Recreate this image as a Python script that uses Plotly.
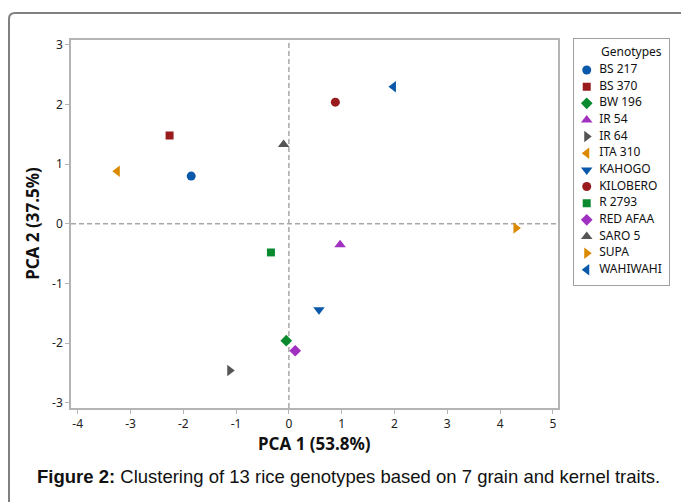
import plotly.graph_objects as go

# ---------------- data ----------------
genotypes = ["BS 217", "BS 370", "BW 196", "IR 54", "IR 64", "ITA 310", "KAHOGO",
             "KILOBERO", "R 2793", "RED AFAA", "SARO 5", "SUPA", "WAHIWAHI"]
pca1 = [-1.85, -2.26, -0.05, 0.97, -1.12, -3.25, 0.57, 0.88, -0.34, 0.12, -0.10, 4.30, 1.98]
pca2 = [0.80, 1.48, -1.96, -0.35, -2.46, 0.88, -1.44, 2.04, -0.48, -2.13, 1.33, -0.07, 2.30]
symbols = ["circle", "square", "diamond", "triangle-up", "triangle-right", "triangle-left",
           "triangle-down", "circle", "square", "diamond", "triangle-up", "triangle-right",
           "triangle-left"]
colors = ["#0A58AA", "#9A1B1E", "#0A8A2E", "#A030C0", "#555555", "#DB8A00", "#0A58AA",
          "#9A1B1E", "#0A8A2E", "#A030C0", "#555555", "#DB8A00", "#0A58AA"]
x_ticks = [-4, -3, -2, -1, 0, 1, 2, 3, 4, 5]
x_tick_labels = ["-4", "-3", "-2", "-1", "0", "1", "2", "3", "4", "5"]
y_ticks = [-3, -2, -1, 0, 1, 2, 3]
y_tick_labels = ["-3", "-2", "-1", "0", "1", "2", "3"]
x_title = "PCA 1 (53.8%)"
y_title = "PCA 2 (37.5%)"
legend_title = "Genotypes"
caption = "<b>Figure 2:</b> Clustering of 13 rice genotypes based on 7 grain and kernel traits."

# ---------------- layout geometry (pixels) ----------------
W, H = 681, 502
ML, MR, MT, MB = 71, 10, 39, 93.7
PW = W - ML - MR
PH = H - MT - MB

def px(x):
    return (x - ML) / PW

def py(y):
    return (H - MB - y) / PH

size_map = {"circle": 9, "square": 8, "diamond": 9, "triangle-up": 10,
            "triangle-down": 10, "triangle-left": 10, "triangle-right": 10}

fig = go.Figure()

# main scatter, one trace per genotype
for g, x, y, s, c in zip(genotypes, pca1, pca2, symbols, colors):
    fig.add_trace(go.Scatter(
        x=[x], y=[y], mode="markers", name=g, showlegend=False,
        marker=dict(symbol=s, color=c, size=size_map[s], opacity=1, line=dict(width=0)),
        xaxis="x", yaxis="y"))

# custom legend drawn on its own axes
fig.add_trace(go.Scatter(
    x=[0.134] * len(genotypes), y=genotypes, mode="markers", showlegend=False,
    marker=dict(symbol=symbols, color=colors, size=[size_map[s] for s in symbols],
                opacity=1, line=dict(width=0)),
    xaxis="x2", yaxis="y2", hoverinfo="skip"))
fig.add_trace(go.Scatter(
    x=[0.265] * len(genotypes), y=genotypes, mode="text", text=genotypes,
    textposition="middle right", showlegend=False,
    textfont=dict(family="Noto Sans", size=12, color="#111111"),
    xaxis="x2", yaxis="y2", hoverinfo="skip"))

axis_line = "#B4B4B4"
tick_font = dict(family="Noto Sans", size=12, color="#222222")

fig.update_layout(
    width=W, height=H,
    margin=dict(l=ML, r=MR, t=MT, b=MB, pad=0),
    paper_bgcolor="white", plot_bgcolor="white",
    showlegend=False,
    xaxis=dict(domain=[0, px(558.3)], range=[-4.127, 5.103], tickvals=x_ticks,
               ticktext=x_tick_labels,
               showgrid=False, zeroline=False, showline=True, mirror=True,
               linecolor=axis_line, linewidth=1.5, ticks="outside", ticklen=4,
               tickcolor=axis_line, tickwidth=1, tickfont=tick_font),
    yaxis=dict(domain=[0, py(40)], range=[-3.09, 3.083], tickvals=y_ticks,
               ticktext=y_tick_labels,
               showgrid=False, zeroline=False, showline=True, mirror=True,
               linecolor=axis_line, linewidth=1.5, ticks="outside", ticklen=4,
               tickcolor=axis_line, tickwidth=1, tickfont=tick_font),
    xaxis2=dict(domain=[px(574), px(669)], range=[0, 1], anchor="y2",
                showgrid=False, zeroline=False, showticklabels=False, ticks="",
                showline=True, mirror=True, linecolor="#A0A0A0", linewidth=1),
    yaxis2=dict(domain=[py(285), py(39)], type="category", categoryarray=genotypes,
                range=[12.9, -1.86], anchor="x2",
                showgrid=False, zeroline=False, showticklabels=False, ticks="",
                showline=True, mirror=True, linecolor="#A0A0A0", linewidth=1),
)

# dashed reference lines at 0
dash_style = dict(color="#A8A8A8", width=1.5, dash="5px,3px")
fig.add_shape(type="line", xref="x", yref="y domain", x0=0, x1=0, y0=0, y1=1,
              line=dash_style, layer="below")
fig.add_shape(type="line", xref="x domain", yref="y", x0=0, x1=1, y0=0, y1=0,
              line=dash_style, layer="below")

# outer rounded frame
r = 6
fig.add_shape(type="path", xref="paper", yref="paper",
              path=(f"M {px(9)} {py(H + 5)} L {px(9)} {py(13 + r)} "
                    f"Q {px(9)} {py(13)} {px(9 + r)} {py(13)} L {px(W + 5)} {py(13)}"),
              line=dict(color="#808080", width=2))

# axis titles, legend title, caption
fig.add_annotation(x=px(314.6), y=py(444), xref="paper", yref="paper", text=f"<b>{x_title}</b>",
                   showarrow=False, font=dict(family="Noto Sans", size=17, color="#111111"),
                   xanchor="center", yanchor="middle")
fig.add_annotation(x=px(33), y=py(224), xref="paper", yref="paper", text=f"<b>{y_title}</b>",
                   showarrow=False, textangle=-90,
                   font=dict(family="Noto Sans", size=17, color="#111111"),
                   xanchor="center", yanchor="middle")
fig.add_annotation(x=px(631), y=py(52), xref="paper", yref="paper", text=legend_title,
                   showarrow=False, font=dict(family="Noto Sans", size=12, color="#111111"),
                   xanchor="center", yanchor="middle")
fig.add_annotation(x=px(348), y=py(477), xref="paper", yref="paper", text=caption,
                   showarrow=False, font=dict(family="Liberation Sans", size=18.5, color="#111111"),
                   xanchor="center", yanchor="middle")

fig.write_html("out.html", config={"displayModeBar": False},
               post_script="document.body.style.margin='0px';")
